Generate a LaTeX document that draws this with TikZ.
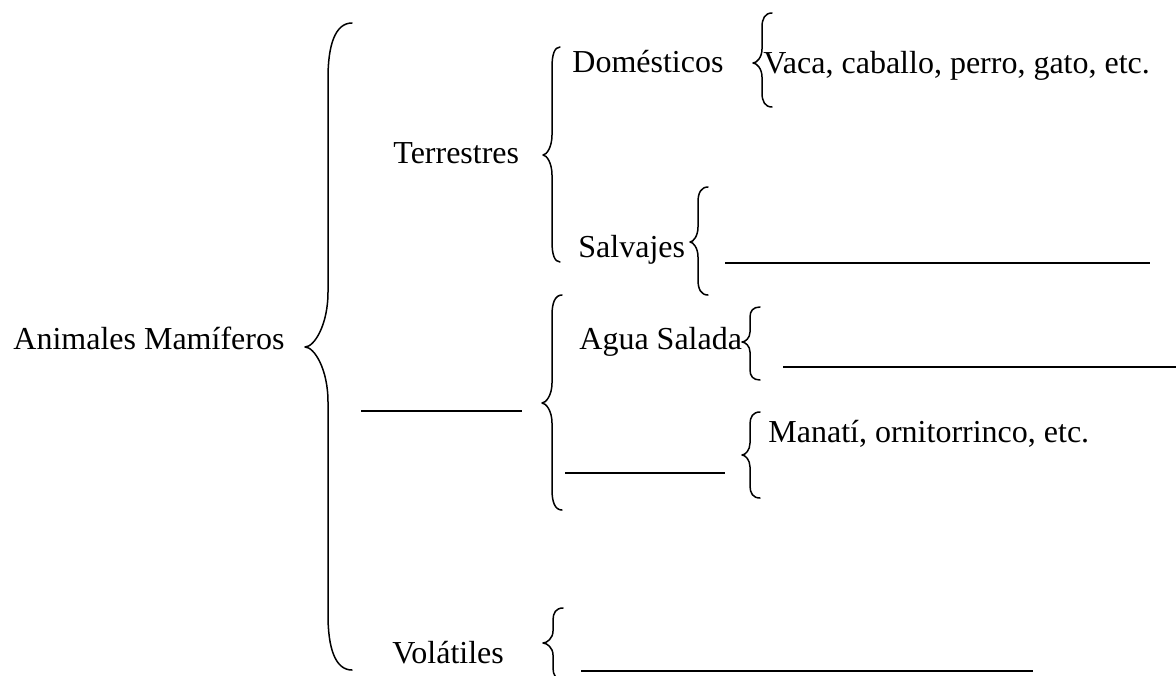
\documentclass[tikz,border=0pt]{standalone}
\usepackage{fontspec}
\setmainfont{Liberation Serif}
\tikzset{
  bracestyle/.style={line width=0.75pt, line cap=round, line join=round},
  blank/.style={line width=0.75pt},
  lbl/.style={anchor=base west, inner sep=0pt, font=\fontsize{16}{18}\selectfont}
}
% #1 end x, #2 vertical x, #3 tip x, #4 top y, #5 mid y, #6 bottom y, #7 rounding
\newcommand{\mybrace}[7]{%
  \draw[bracestyle] (#1,#4) .. controls ({#2+0.3*(#1-#2)},#4) and (#2,{#4+0.4*#7}) .. (#2,{#4+#7})
    -- (#2,{#5-#7}) .. controls (#2,{#5-0.4*#7}) and ({#3+0.4*(#2-#3)},#5) .. (#3,#5)
    .. controls ({#3+0.4*(#2-#3)},#5) and (#2,{#5+0.4*#7}) .. (#2,{#5+#7})
    -- (#2,{#6-#7}) .. controls (#2,{#6-0.4*#7}) and ({#2+0.3*(#1-#2)},#6) .. (#1,#6);}
\begin{document}
\begin{tikzpicture}[x=0.5pt,y=-0.5pt]
\clip (0,0) rectangle (1176,675);
\fill[white] (0,0) rectangle (1176,675);

% texts
\node[lbl] (am) at (13,349) {Animales Mamíferos};
\node[lbl] (te) at (393,163) {Terrestres};
\node[lbl] (do) at (572,72) {Domésticos};
\node[lbl] (va) at (763,73) {Vaca, caballo, perro, gato, etc.};
\node[lbl] (sa) at (578,257) {Salvajes};
\node[lbl] (ag) at (579,349) {Agua Salada};
\node[lbl] (ma) at (768,442) {Manatí, ornitorrinco, etc.};
\node[lbl] (vo) at (392,663) {Volátiles};

% braces
\mybrace{352}{328}{305}{23}{347}{670}{55}
\mybrace{560}{552}{543}{47}{155}{262}{20}
\mybrace{772}{762}{753}{13}{63}{107}{14}
\mybrace{708}{698}{690}{187}{242}{295}{15}
\mybrace{562}{552}{542}{295}{403}{510}{20}
\mybrace{760}{750}{742}{307}{342}{380}{10}
\mybrace{760}{750}{742}{412}{455}{498}{12}
\mybrace{563}{553}{543}{608}{643}{680}{12}

% blank lines
\coordinate (l1a) at (725,263); \coordinate (l1b) at (1150,263);
\coordinate (l2a) at (783,367); \coordinate (l2b) at (1176,367);
\coordinate (l3a) at (361,411); \coordinate (l3b) at (522,411);
\coordinate (l4a) at (565,473); \coordinate (l4b) at (725,473);
\coordinate (l5a) at (581,671); \coordinate (l5b) at (1033,671);
\draw[blank] (l1a) -- (l1b);
\draw[blank] (l2a) -- (l2b);
\draw[blank] (l3a) -- (l3b);
\draw[blank] (l4a) -- (l4b);
\draw[blank] (l5a) -- (l5b);
\end{tikzpicture}
\end{document}
